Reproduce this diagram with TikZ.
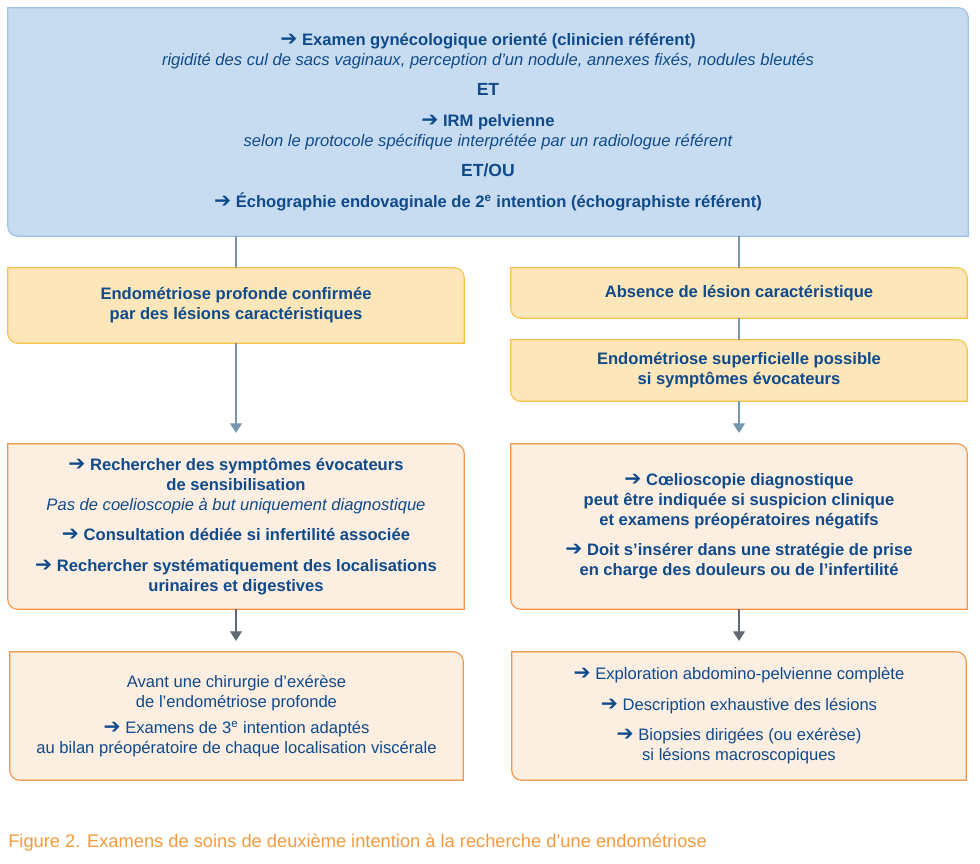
\documentclass[tikz,border=0pt]{standalone}
\usepackage{fontspec}
\setmainfont{Liberation Sans}
\newfontfamily\arrowfont{DejaVu Sans}
\usetikzlibrary{arrows.meta,backgrounds,positioning}
\definecolor{inkblue}{HTML}{0F4A8A}
\definecolor{skyfill}{HTML}{C8DCF1}
\definecolor{skyline}{HTML}{9DC3E6}
\definecolor{sandfill}{HTML}{FDE6B9}
\definecolor{sandline}{HTML}{F8C24A}
\definecolor{peachfill}{HTML}{FDEEE2}
\definecolor{peachline}{HTML}{F2964A}
\definecolor{slatelink}{HTML}{7596AF}
\definecolor{greylink}{HTML}{626970}
\definecolor{captionorange}{HTML}{F39A3D}
\newcommand{\goarrow}{{\arrowfont\bfseries\fontsize{14.5pt}{14pt}\selectfont\char"2794}\ }
\newlength{\cutrad}\setlength{\cutrad}{0.25cm}
% box with rounded top-right and bottom-left corners
\newcommand{\cutbox}[2]{%
  \path[#2] (#1.north west) -- ([xshift=-\cutrad]#1.north east)
    arc[start angle=90,end angle=0,radius=\cutrad] -- (#1.south east)
    -- ([xshift=\cutrad]#1.south west)
    arc[start angle=270,end angle=180,radius=\cutrad] -- cycle;}

\begin{document}
\begin{tikzpicture}[
  panel/.style={align=center,inner sep=0pt,text=inkblue,
    font=\fontsize{11.8pt}{14.2pt}\selectfont},
  wide/.style={panel,minimum width=24cm},
  half/.style={panel,minimum width=11.4cm},
  sky/.style={fill=skyfill,draw=skyline,line width=0.8pt},
  sand/.style={fill=sandfill,draw=sandline,line width=0.8pt},
  peach/.style={fill=peachfill,draw=peachline,line width=0.8pt},
  link/.style={draw=slatelink,line width=0.8pt},
  flow/.style={link,-{Triangle[width=0.3cm,length=0.24cm]},shorten >=0.27cm},
  flowgrey/.style={flow,draw=greylink,fill=greylink}
]
\useasboundingbox (0,0) rectangle (24.5,-21.6);
\node[wide,minimum height=5.7cm] (exam) at (12.2,-3.05)
  {{\bfseries\goarrow Examen gynécologique orienté (clinicien référent)}\\
   {\itshape rigidité des cul de sacs vaginaux, perception d’un nodule, annexes fixés, nodules bleutés}\\[7.5pt]
   {\bfseries\fontsize{12.5pt}{14.2pt}\selectfont ET}\\[7.5pt]
   {\bfseries\goarrow IRM pelvienne}\\
   {\itshape selon le protocole spécifique interprétée par un radiologue référent}\\[7.5pt]
   {\bfseries\fontsize{12.5pt}{14.2pt}\selectfont ET/OU}\\[7.5pt]
   {\bfseries\goarrow Échographie endovaginale de 2\textsuperscript{e} intention (échographiste référent)}};
\node[half,minimum height=1.875cm,font=\fontsize{11.8pt}{14.2pt}\selectfont\bfseries]
  (deep) at (5.9,-7.6375)
  {Endométriose profonde confirmée\\par des lésions caractéristiques};
\node[half,minimum height=1.25cm,font=\fontsize{11.8pt}{14.2pt}\selectfont\bfseries]
  (none) at (18.475,-7.325) {Absence de lésion caractéristique};
\node[half,minimum height=1.525cm,font=\fontsize{11.8pt}{14.2pt}\selectfont\bfseries]
  (surface) at (18.475,-9.2625)
  {Endométriose superficielle possible\\si symptômes évocateurs};
\node[half,minimum height=4.125cm] (search) at (5.9,-13.1625)
  {{\bfseries\goarrow Rechercher des symptômes évocateurs}\\
   {\bfseries de sensibilisation}\\
   {\itshape Pas de coelioscopie à but uniquement diagnostique}\\[7.5pt]
   {\bfseries\goarrow Consultation dédiée si infertilité associée}\\[7.5pt]
   {\bfseries\goarrow Rechercher systématiquement des localisations}\\
   {\bfseries urinaires et digestives}};
\node[half,minimum height=4.125cm] (scope) at (18.475,-13.1625)
  {{\bfseries\goarrow Cœlioscopie diagnostique}\\
   {\bfseries peut être indiquée si suspicion clinique}\\
   {\bfseries et examens préopératoires négatifs}\\[7.5pt]
   {\bfseries\goarrow Doit s’insérer dans une stratégie de prise}\\
   {\bfseries en charge des douleurs ou de l’infertilité}};
\node[panel,minimum width=11.325cm,minimum height=3.2cm] (surgery) at (5.9125,-17.9)
  {Avant une chirurgie d’exérèse\\
   de l’endométriose profonde\\[4.5pt]
   \goarrow Examens de 3\textsuperscript{e} intention adaptés\\
   au bilan préopératoire de chaque localisation viscérale};
\node[panel,minimum width=11.35cm,minimum height=3.2cm] (explore) at (18.475,-17.9)
  {\goarrow Exploration abdomino-pelvienne complète\\[7.5pt]
   \goarrow Description exhaustive des lésions\\[7.5pt]
   \goarrow Biopsies dirigées (ou exérèse)\\
   si lésions macroscopiques};
\node[anchor=west,inner sep=0pt,text=captionorange,font=\fontsize{13pt}{15pt}\selectfont]
  (caption) at (0.2,-21.075)
  {Figure 2. Examens de soins de deuxième intention à la recherche d’une endométriose};
% connectors
\draw[link] (exam.south -| deep.north) -- (deep.north);
\draw[link] (exam.south -| none.north) -- (none.north);
\draw[link] (none.south) -- (surface.north);
\draw[flow,fill=slatelink] (deep.south) -- (search.north);
\draw[flow,fill=slatelink] (surface.south) -- (scope.north);
\draw[flowgrey] (search.south) -- (search.south |- surgery.north);
\draw[flowgrey] (scope.south) -- (scope.south |- explore.north);
\begin{scope}[on background layer]
  \cutbox{exam}{sky}
  \cutbox{deep}{sand}
  \cutbox{none}{sand}
  \cutbox{surface}{sand}
  \cutbox{search}{peach}
  \cutbox{scope}{peach}
  \cutbox{surgery}{peach}
  \cutbox{explore}{peach}
\end{scope}
\end{tikzpicture}
\end{document}
